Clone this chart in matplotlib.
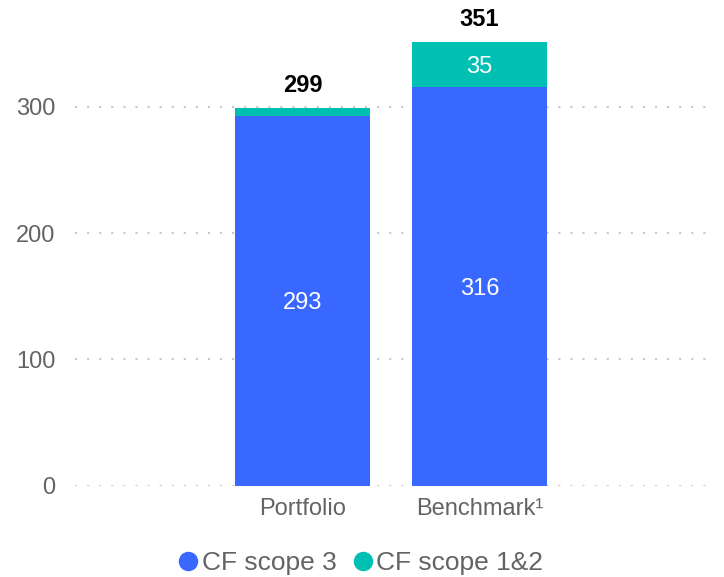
import matplotlib
matplotlib.use("Agg")
import matplotlib.pyplot as plt
from matplotlib.lines import Line2D

plt.rcParams["font.family"] = ["Liberation Sans", "DejaVu Sans"]

categories = ["Portfolio", "Benchmark\u00b9"]
scope3 = [293, 316]
scope12 = [6, 35]
totals = [299, 351]
scope12_labels = ["", "35"]

BLUE, TEAL, GREY = "#3868FF", "#00BFB3", "#646464"

fig = plt.figure(figsize=(7.24, 5.77), dpi=100)
ax = fig.add_axes([75/724, 1 - 485.7/577, 640/724, 485.7/577])

x = list(range(len(categories)))
w = 135/177
ax.bar(x, scope3, w, color=BLUE, zorder=2)
ax.bar(x, scope12, w, bottom=scope3, color=TEAL, zorder=2)

for i in x:
    ax.annotate(str(scope3[i]), (i, scope3[i]/2), xytext=(0, -2), textcoords="offset points",
                ha="center", va="center", color="white", fontsize=17)
    if scope12_labels[i]:
        ax.annotate(scope12_labels[i], (i, scope3[i] + scope12[i]/2), xytext=(0, -2),
                    textcoords="offset points", ha="center", va="center", color="white", fontsize=17)
    ax.annotate(str(totals[i]), (i, totals[i]), xytext=(0, 8), textcoords="offset points",
                ha="center", va="bottom", fontsize=17, fontweight="bold", color="black")

ax.set_xlim(-1.285, 2.33)
ax.set_ylim(0, 384.5)
ax.set_yticks([0, 100, 200, 300])
ax.set_xticks(x)
ax.set_xticklabels(categories)
ax.tick_params(axis="y", length=0, pad=14, labelsize=17, labelcolor=GREY)
ax.tick_params(axis="x", length=0, pad=9, labelsize=17, labelcolor=GREY)
ax.grid(axis="y", color="#c8c8c8", linestyle=(0, (1, 4.8)), linewidth=1.5, zorder=0)
for s in ax.spines.values():
    s.set_visible(False)

handles = [Line2D([], [], marker="o", ls="", markersize=13, color=BLUE),
           Line2D([], [], marker="o", ls="", markersize=13, color=TEAL)]
fig.legend(handles, ["CF scope 3", "CF scope 1&2"], loc="center", bbox_to_anchor=(359/724, 1 - 563/577),
           ncol=2, frameon=False, fontsize=19, labelcolor=GREY, handletextpad=0.0,
           columnspacing=0.5, handlelength=1.0)

fig.savefig("out.png", dpi=100)
